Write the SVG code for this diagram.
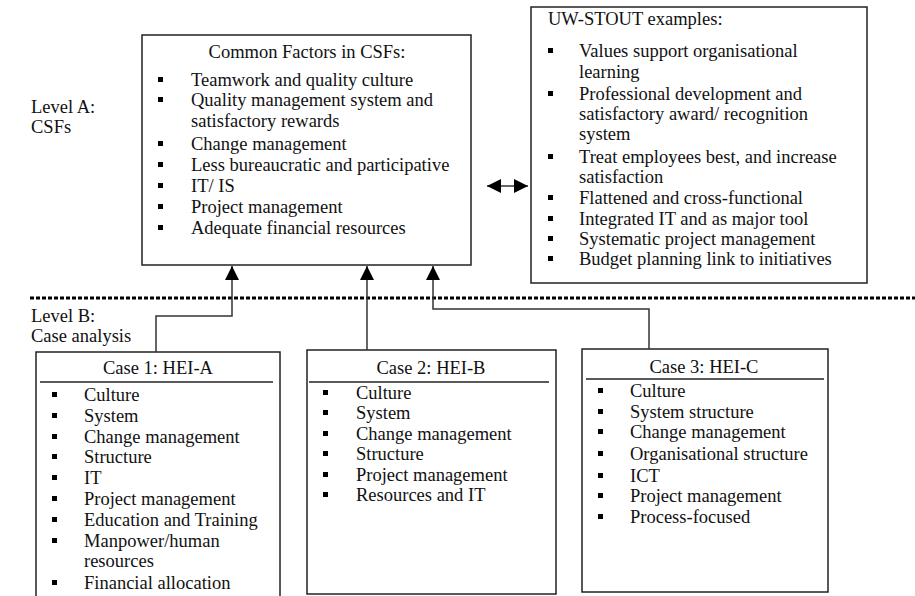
<svg xmlns="http://www.w3.org/2000/svg" width="915" height="596" viewBox="0 0 915 596">
  <defs>
    <style>
      text { font-family: "Liberation Serif", "Times New Roman", serif; font-size: 18.5px; fill: #111; }
      .box { fill: #fff; stroke: #222; stroke-width: 1.5; }
      .rule { stroke: #222; stroke-width: 1.5; }
      .b { fill: #000; }
      .conn { fill: none; stroke: #333; stroke-width: 1.5; }
      .mid { text-anchor: middle; }
    </style>
    <marker id="head" markerUnits="userSpaceOnUse" markerWidth="16" markerHeight="14" refX="14" refY="7" orient="auto-start-reverse">
      <path d="M0,0 L14,7 L0,14 Z" fill="#000"/>
    </marker>
  </defs>

  <!-- level labels -->
  <g id="level-a">
    <text x="31" y="113">Level A:</text>
    <text x="31" y="133">CSFs</text>
  </g>
  <g id="level-b">
    <text x="31" y="322">Level B:</text>
    <text x="31" y="342">Case analysis</text>
  </g>

  <!-- divider between the two levels -->
  <line x1="30" y1="298" x2="915" y2="298" stroke="#000" stroke-width="3" stroke-dasharray="4 2"/>

  <!-- common factors -->
  <g id="common-factors">
    <rect class="box" x="142" y="35" width="329" height="230"/>
    <text class="mid" x="307" y="58">Common Factors in CSFs:</text>
    <rect class="b" x="158" y="77" width="5" height="5"/>
    <text x="191" y="86">Teamwork and quality culture</text>
    <rect class="b" x="158" y="97" width="5" height="5"/>
    <text x="191" y="106">Quality management system and</text>
    <text x="191" y="127">satisfactory rewards</text>
    <rect class="b" x="158" y="141" width="5" height="5"/>
    <text x="191" y="150">Change management</text>
    <rect class="b" x="158" y="162" width="5" height="5"/>
    <text x="191" y="171">Less bureaucratic and participative</text>
    <rect class="b" x="158" y="183" width="5" height="5"/>
    <text x="191" y="192">IT/ IS</text>
    <rect class="b" x="158" y="204" width="5" height="5"/>
    <text x="191" y="213">Project management</text>
    <rect class="b" x="158" y="225" width="5" height="5"/>
    <text x="191" y="234">Adequate financial resources</text>
  </g>

  <!-- UW-STOUT examples -->
  <g id="uw-stout">
    <rect class="box" x="531" y="7" width="336" height="276"/>
    <text x="548" y="25">UW-STOUT examples:</text>
    <rect class="b" x="548" y="48" width="5" height="5"/>
    <text x="579" y="57">Values support organisational</text>
    <text x="579" y="78">learning</text>
    <rect class="b" x="548" y="91" width="5" height="5"/>
    <text x="579" y="100">Professional development and</text>
    <text x="579" y="120">satisfactory award/ recognition</text>
    <text x="579" y="140">system</text>
    <rect class="b" x="548" y="154" width="5" height="5"/>
    <text x="579" y="163">Treat employees best, and increase</text>
    <text x="579" y="183">satisfaction</text>
    <rect class="b" x="548" y="195" width="5" height="5"/>
    <text x="579" y="204">Flattened and cross-functional</text>
    <rect class="b" x="548" y="216" width="5" height="5"/>
    <text x="579" y="225">Integrated IT and as major tool</text>
    <rect class="b" x="548" y="236" width="5" height="5"/>
    <text x="579" y="245">Systematic project management</text>
    <rect class="b" x="548" y="256" width="5" height="5"/>
    <text x="579" y="265">Budget planning link to initiatives</text>
  </g>

  <!-- case 1 -->
  <g id="case-1">
    <rect class="box" x="36" y="352" width="244" height="260"/>
    <text class="mid" x="158" y="374">Case 1: HEI-A</text>
    <line class="rule" x1="40" y1="382" x2="273" y2="382"/>
    <rect class="b" x="52" y="392" width="5" height="5"/>
    <text x="84" y="401">Culture</text>
    <rect class="b" x="52" y="413" width="5" height="5"/>
    <text x="84" y="422">System</text>
    <rect class="b" x="52" y="434" width="5" height="5"/>
    <text x="84" y="443">Change management</text>
    <rect class="b" x="52" y="454" width="5" height="5"/>
    <text x="84" y="463">Structure</text>
    <rect class="b" x="52" y="475" width="5" height="5"/>
    <text x="84" y="484">IT</text>
    <rect class="b" x="52" y="496" width="5" height="5"/>
    <text x="84" y="505">Project management</text>
    <rect class="b" x="52" y="517" width="5" height="5"/>
    <text x="84" y="526">Education and Training</text>
    <rect class="b" x="52" y="538" width="5" height="5"/>
    <text x="84" y="547">Manpower/human</text>
    <text x="84" y="567">resources</text>
    <rect class="b" x="52" y="580" width="5" height="5"/>
    <text x="84" y="589">Financial allocation</text>
  </g>

  <!-- case 2 -->
  <g id="case-2">
    <rect class="box" x="307" y="350" width="249" height="244"/>
    <text class="mid" x="431" y="374">Case 2: HEI-B</text>
    <line class="rule" x1="309" y1="382" x2="549" y2="382"/>
    <rect class="b" x="323" y="390" width="5" height="5"/>
    <text x="356" y="399">Culture</text>
    <rect class="b" x="323" y="410" width="5" height="5"/>
    <text x="356" y="419">System</text>
    <rect class="b" x="323" y="431" width="5" height="5"/>
    <text x="356" y="440">Change management</text>
    <rect class="b" x="323" y="451" width="5" height="5"/>
    <text x="356" y="460">Structure</text>
    <rect class="b" x="323" y="472" width="5" height="5"/>
    <text x="356" y="481">Project management</text>
    <rect class="b" x="323" y="492" width="5" height="5"/>
    <text x="356" y="501">Resources and IT</text>
  </g>

  <!-- case 3 -->
  <g id="case-3">
    <rect class="box" x="582" y="349" width="246" height="243"/>
    <text class="mid" x="704" y="373">Case 3: HEI-C</text>
    <line class="rule" x1="586" y1="379" x2="824" y2="379"/>
    <rect class="b" x="598" y="388" width="5" height="5"/>
    <text x="630" y="397">Culture</text>
    <rect class="b" x="598" y="409" width="5" height="5"/>
    <text x="630" y="418">System structure</text>
    <rect class="b" x="598" y="429" width="5" height="5"/>
    <text x="630" y="438">Change management</text>
    <rect class="b" x="598" y="451" width="5" height="5"/>
    <text x="630" y="460">Organisational structure</text>
    <rect class="b" x="598" y="473" width="5" height="5"/>
    <text x="630" y="482">ICT</text>
    <rect class="b" x="598" y="493" width="5" height="5"/>
    <text x="630" y="502">Project management</text>
    <rect class="b" x="598" y="514" width="5" height="5"/>
    <text x="630" y="523">Process-focused</text>
  </g>

  <!-- connectors -->
  <g id="connectors">
    <path class="conn" d="M156,352 V316 H232 V266" marker-end="url(#head)"/>
    <path class="conn" d="M367,350 V266" marker-end="url(#head)"/>
    <path class="conn" d="M649,349 V309 H433 V266" marker-end="url(#head)"/>
    <path class="conn" d="M487,186 H528" marker-start="url(#head)" marker-end="url(#head)"/>
  </g>
</svg>
